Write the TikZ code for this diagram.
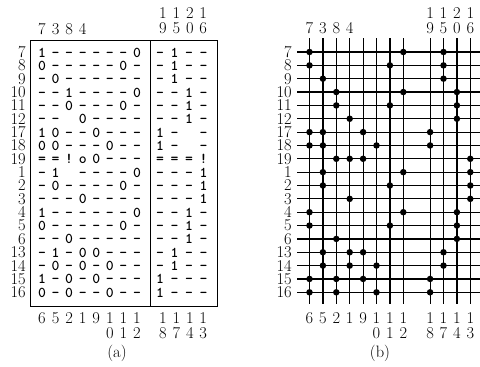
\documentclass[tikz,border=0pt]{standalone}
\usepackage{tikz}
\tikzstyle{joint}=[fill,shape=circle,minimum size=6.5pt,inner sep=0pt]
\tikzstyle{cell}=[font=\fontsize{15}{15}\selectfont\ttfamily\bfseries,inner sep=0pt,anchor=base]
\tikzstyle{lab}=[font=\fontsize{16.5}{16.5}\selectfont,inner sep=0pt]
\tikzstyle{wire}=[line width=1.2pt]
\newcommand{\stk}[2]{\shortstack{#1\\[1pt]#2}}
% one row: index, label, entries of (a), columns with a joint in (b)
\newcommand{\mrow}[4]{%
  \pgfmathsetmacro\yr{52+13.35*#1}
  \node[lab,anchor=east] (la#2) at (26,\yr) {#2};
  \node[lab,anchor=east] (lb#2) at (292,\yr) {#2};
  \coordinate (wl#2) at (297,\yr);
  \coordinate (wr#2) at (480,\yr);
  \draw[wire] (wl#2) -- (wr#2);
  \foreach \c [count=\j] in {#3} {
    \pgfmathsetmacro\xa{\j<9 ? 42+13.57*(\j-1) : 160+14.5*(\j-9)}
    \node[cell] (e#2-\j) at (\xa,\yr+5) {\c};
  }
  \foreach \j in {#4} {
    \pgfmathsetmacro\xb{\j<9 ? 309.5+13.4*(\j-1) : 309.5+13.4*\j}
    \node[joint] (d#2-\j) at (\xb,\yr) {};
  }
}
\begin{document}
\begin{tikzpicture}[x=1pt,y=-1pt]
\useasboundingbox (0,0) rectangle (480,367);
% (a) box
\coordinate (boxtl) at (30,40);
\coordinate (boxbr) at (217,306);
\coordinate (divt) at (150,40);
\coordinate (divb) at (150,306);
\draw[line width=1pt] (boxtl) rectangle (boxbr);
\draw[line width=1pt] (divt) -- (divb);
% (b) columns
\foreach \k in {0,...,7,9,10,11,12} {
  \coordinate (vt\k) at ({309.5+13.4*\k},38);
  \coordinate (vb\k) at ({309.5+13.4*\k},304);
  \draw[wire] (vt\k) -- (vb\k);
}
% rows
\mrow{0}{7}{1,-,-,-,-,-,-,0,-,1,-,-}{1,8,10}
\mrow{1}{8}{0,-,-,-,-,-,0,-,-,1,-,-}{1,7,10}
\mrow{2}{9}{-,0,-,-,-,-,-,-,-,1,-,-}{2,10}
\mrow{3}{10}{-,-,1,-,-,-,-,0,-,-,1,-}{3,8,11}
\mrow{4}{11}{-,-,0,-,-,-,0,-,-,-,1,-}{3,7,11}
\mrow{5}{12}{-,-,{},0,-,-,-,-,-,-,1,-}{4,11}
\mrow{6}{17}{1,0,-,-,0,-,-,-,1,-,{},-}{1,2,5,9}
\mrow{7}{18}{0,0,-,-,-,0,-,-,1,-,{},-}{1,2,6,9}
\mrow{8}{19}{=,=,!,o,0,-,-,-,=,=,=,!}{3,4,5,12}
\mrow{9}{1}{-,1,{},-,-,-,-,0,-,-,-,1}{2,8,12}
\mrow{10}{2}{-,0,-,-,-,-,0,-,-,-,-,1}{2,7,12}
\mrow{11}{3}{-,-,-,0,-,-,-,-,-,-,-,1}{4,12}
\mrow{12}{4}{1,-,-,-,-,-,-,0,-,-,1,-}{1,8,11}
\mrow{13}{5}{0,-,-,-,-,-,0,-,-,-,1,-}{1,7,11}
\mrow{14}{6}{-,-,0,-,-,-,-,-,-,-,1,-}{3,11}
\mrow{15}{13}{-,1,-,0,0,-,-,-,-,1,-,-}{2,4,5,10}
\mrow{16}{14}{-,0,-,0,-,0,-,-,-,1,-,-}{2,4,6,10}
\mrow{17}{15}{1,-,0,-,0,-,-,-,1,-,-,-}{1,3,5,9}
\mrow{18}{16}{0,-,0,-,-,0,-,-,1,-,-,-}{1,3,6,9}
% column labels
\foreach \t [count=\j] in {7,3,8,4} {
  \node[lab,anchor=south] (ta\j) at ({42+13.57*(\j-1)},35) {\t};
  \node[lab,anchor=south] (tb\j) at ({309.5+13.4*(\j-1)},34) {\t};
}
\foreach \t/\b [count=\j] in {1/9,1/5,2/0,1/6} {
  \node[lab,anchor=south] (ra\j) at ({163+13.4*(\j-1)},34) {\stk{\t}{\b}};
  \node[lab,anchor=south] (rb\j) at ({309.5+13.4*(8+\j)},34) {\stk{\t}{\b}};
}
\foreach \t [count=\j] in {6,5,2,1,9,\stk10,\stk11,\stk12} {
  \node[lab,anchor=north] (ba\j) at ({42+13.57*(\j-1)},312.5) {\t};
  \node[lab,anchor=north] (bb\j) at ({309.5+13.4*(\j-1)},312.5) {\t};
}
\foreach \t/\b [count=\j] in {1/8,1/7,1/4,1/3} {
  \node[lab,anchor=north] (sa\j) at ({163+13.4*(\j-1)},312.5) {\stk{\t}{\b}};
  \node[lab,anchor=north] (sb\j) at ({309.5+13.4*(8+\j)},312.5) {\stk{\t}{\b}};
}
% captions
\node[lab] (capa) at (117,353) {(a)};
\node[lab] (capb) at (380,353) {(b)};
\end{tikzpicture}
\end{document}
